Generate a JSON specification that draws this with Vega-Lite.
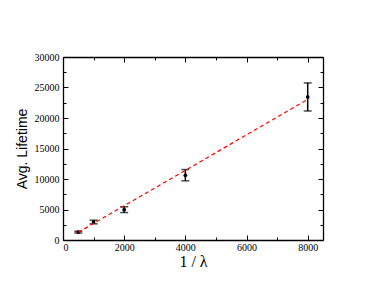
{
  "$schema": "https://vega.github.io/schema/vega-lite/v6.json",
  "autosize": {"type": "none"},
  "padding": {"left": 63, "top": 57, "right": 51, "bottom": 49},
  "width": 260,
  "height": 183,
  "background": "white",
  "config": {
    "view": {"stroke": null},
    "axis": {
      "grid": false,
      "domainColor": "black",
      "domainWidth": 1.3,
      "tickColor": "black",
      "tickWidth": 1,
      "labelFont": "Liberation Serif",
      "labelFontSize": 10,
      "labelColor": "black",
      "titleColor": "black"
    }
  },
  "datasets": {
    "pts": [
      {"x": 500, "y": 1300, "lo": 1150, "hi": 1450},
      {"x": 1000, "y": 2950, "lo": 2650, "hi": 3250},
      {"x": 2000, "y": 4970, "lo": 4500, "hi": 5450},
      {"x": 4000, "y": 10600, "lo": 9700, "hi": 11550},
      {"x": 8000, "y": 23450, "lo": 21150, "hi": 25750}
    ],
    "fit": [
      {"x": 500, "y": 1250},
      {"x": 8000, "y": 23050}
    ]
  },
  "resolve": {"axis": {"x": "independent", "y": "independent"}},
  "layer": [
    {
      "data": {"name": "pts"},
      "mark": {"type": "rule", "color": "black", "strokeWidth": 1.5},
      "encoding": {
        "x": {
          "field": "x", "type": "quantitative",
          "scale": {"domain": [0, 8500], "nice": false, "zero": false},
          "axis": {
            "orient": "bottom",
            "values": [0, 1000, 2000, 3000, 4000, 5000, 6000, 7000, 8000],
            "labelExpr": "datum.value % 2000 === 0 ? format(datum.value, 'd') : ''",
            "tickSize": {"condition": {"test": "datum.value % 2000 === 0", "value": -5}, "value": -3},
            "labelPadding": 7,
            "title": "1 / λ",
            "titleFont": "Liberation Serif",
            "titleFontSize": 16,
            "titleFontWeight": "normal",
            "titlePadding": 1
          }
        },
        "y": {
          "field": "lo", "type": "quantitative",
          "scale": {"domain": [0, 30000], "nice": false, "zero": false},
          "axis": {
            "orient": "left",
            "values": [0, 2500, 5000, 7500, 10000, 12500, 15000, 17500, 20000, 22500, 25000, 27500, 30000],
            "labelExpr": "datum.value % 5000 === 0 ? format(datum.value, 'd') : ''",
            "tickSize": {"condition": {"test": "datum.value % 5000 === 0", "value": -5}, "value": -3},
            "labelPadding": 9,
            "title": "Avg. Lifetime",
            "titleFont": "Liberation Sans",
            "titleFontSize": 14,
            "titleFontWeight": "normal",
            "titlePadding": 5
          }
        },
        "y2": {"field": "hi"}
      }
    },
    {
      "data": {"name": "pts"},
      "mark": {"type": "tick", "color": "black", "thickness": 1.5, "size": 8, "orient": "horizontal"},
      "encoding": {
        "x": {"field": "x", "type": "quantitative", "axis": null},
        "y": {"field": "lo", "type": "quantitative", "axis": null}
      }
    },
    {
      "data": {"name": "pts"},
      "mark": {"type": "tick", "color": "black", "thickness": 1.5, "size": 8, "orient": "horizontal"},
      "encoding": {
        "x": {"field": "x", "type": "quantitative", "axis": null},
        "y": {"field": "hi", "type": "quantitative", "axis": null}
      }
    },
    {
      "data": {"name": "pts"},
      "mark": {"type": "circle", "color": "black", "size": 14, "opacity": 1},
      "encoding": {
        "x": {"field": "x", "type": "quantitative", "axis": null},
        "y": {"field": "y", "type": "quantitative", "axis": null}
      }
    },
    {
      "data": {"name": "fit"},
      "mark": {"type": "line", "color": "#ff0000", "strokeWidth": 1.2, "strokeDash": [4, 3]},
      "encoding": {
        "x": {
          "field": "x", "type": "quantitative",
          "axis": {
            "orient": "top",
            "values": [0, 1000, 2000, 3000, 4000, 5000, 6000, 7000, 8000],
            "labels": false,
            "tickSize": {"condition": {"test": "datum.value % 2000 === 0", "value": -5}, "value": -3},
            "title": null
          }
        },
        "y": {
          "field": "y", "type": "quantitative",
          "axis": {
            "orient": "right",
            "values": [0, 2500, 5000, 7500, 10000, 12500, 15000, 17500, 20000, 22500, 25000, 27500, 30000],
            "labels": false,
            "tickSize": {"condition": {"test": "datum.value % 5000 === 0", "value": -5}, "value": -3},
            "title": null
          }
        }
      }
    }
  ]
}
